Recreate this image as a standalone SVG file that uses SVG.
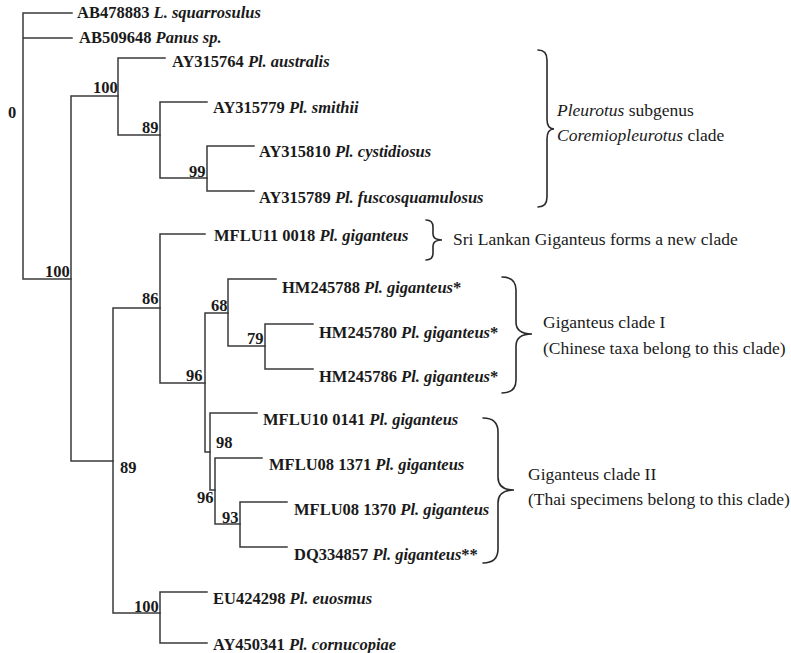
<svg xmlns="http://www.w3.org/2000/svg" width="791" height="653" viewBox="0 0 791 653">
<style>
.bg{fill:#ffffff}
.ln{fill:none;stroke:#3a3a3a;stroke-width:1.5;stroke-linecap:square}
.br{fill:none;stroke:#2a2a2a;stroke-width:1.6;stroke-linecap:round}
.lf{font-family:"Liberation Serif","Times New Roman",serif;font-size:16.5px;font-weight:bold;fill:#1a1a1a}
.bs{font-family:"Liberation Serif","Times New Roman",serif;font-size:16.5px;font-weight:bold;fill:#1a1a1a}
.cl{font-family:"Liberation Serif","Times New Roman",serif;font-size:17.5px;fill:#1a1a1a}
.it{font-style:italic}
</style>
<rect class="bg" x="0" y="0" width="791" height="653"/>
<g id="connectors" class="ln">
<path d="M23,13V279M23,13H72M23,38H72M23,279H71"/>
<path d="M71,96V461M71,96H118M71,461H113"/>
<path d="M118,58V135M118,58H165M118,135H160"/>
<path d="M160,102V178M160,102H207M160,178H207"/>
<path d="M207,146V191M207,146H254M207,191H254"/>
<path d="M113,308V613M113,308H160M113,613H160"/>
<path d="M160,234V383M160,234H205M160,383H205"/>
<path d="M205,313V452M205,313H228M205,452H210"/>
<path d="M228,279V346M228,279H276M228,346H265"/>
<path d="M265,324V369M265,324H313M265,369H313"/>
<path d="M210,413V490M210,413H257M210,490H215"/>
<path d="M215,458V524M215,458H262M215,524H240"/>
<path d="M240,502V547M240,502H287M240,547H287"/>
<path d="M160,592V643M160,592H207M160,643H207"/>
</g>
<g id="leaf-AB478883"><text class="lf" x="77" y="18">AB478883 <tspan class="it">L. squarrosulus</tspan></text></g>
<g id="leaf-AB509648"><text class="lf" x="79" y="43">AB509648 <tspan class="it">Panus sp.</tspan></text></g>
<g id="leaf-AY315764"><text class="lf" x="172" y="67">AY315764 <tspan class="it">Pl. australis</tspan></text></g>
<g id="leaf-AY315779"><text class="lf" x="213" y="113">AY315779 <tspan class="it">Pl. smithii</tspan></text></g>
<g id="leaf-AY315810"><text class="lf" x="259" y="157">AY315810 <tspan class="it">Pl. cystidiosus</tspan></text></g>
<g id="leaf-AY315789"><text class="lf" x="259" y="203">AY315789 <tspan class="it">Pl. fuscosquamulosus</tspan></text></g>
<g id="leaf-MFLU110018"><text class="lf" x="214" y="241">MFLU11 0018 <tspan class="it">Pl. giganteus</tspan></text></g>
<g id="leaf-HM245788"><text class="lf" x="282" y="293">HM245788 <tspan class="it">Pl. giganteus</tspan>*</text></g>
<g id="leaf-HM245780"><text class="lf" x="319" y="338">HM245780 <tspan class="it">Pl. giganteus</tspan>*</text></g>
<g id="leaf-HM245786"><text class="lf" x="319" y="382">HM245786 <tspan class="it">Pl. giganteus</tspan>*</text></g>
<g id="leaf-MFLU100141"><text class="lf" x="263" y="425">MFLU10 0141 <tspan class="it">Pl. giganteus</tspan></text></g>
<g id="leaf-MFLU081371"><text class="lf" x="269" y="470">MFLU08 1371 <tspan class="it">Pl. giganteus</tspan></text></g>
<g id="leaf-MFLU081370"><text class="lf" x="294" y="515">MFLU08 1370 <tspan class="it">Pl. giganteus</tspan></text></g>
<g id="leaf-DQ334857"><text class="lf" x="294" y="560">DQ334857 <tspan class="it">Pl. giganteus</tspan>**</text></g>
<g id="leaf-EU424298"><text class="lf" x="213" y="604">EU424298 <tspan class="it">Pl. euosmus</tspan></text></g>
<g id="leaf-AY450341"><text class="lf" x="213" y="650">AY450341 <tspan class="it">Pl. cornucopiae</tspan></text></g>
<g id="support-values">
<text class="bs" x="8" y="118">0</text>
<text class="bs" x="93" y="93">100</text>
<text class="bs" x="142" y="133">89</text>
<text class="bs" x="189" y="177">99</text>
<text class="bs" x="45" y="277">100</text>
<text class="bs" x="142" y="304">86</text>
<text class="bs" x="211" y="311">68</text>
<text class="bs" x="247" y="344">79</text>
<text class="bs" x="186" y="381">96</text>
<text class="bs" x="216" y="448">98</text>
<text class="bs" x="197" y="503">96</text>
<text class="bs" x="222" y="523">93</text>
<text class="bs" x="120" y="473">89</text>
<text class="bs" x="134" y="612">100</text>
</g>
<g id="clade-coremiopleurotus">
<path class="br" d="M538,50Q547,50 547,60L547,119Q547,129 554,129Q547,129 547,139L547,197Q547,207 538,207"/>
<text class="cl" x="557" y="116"><tspan class="it">Pleurotus</tspan> subgenus</text>
<text class="cl" x="557" y="141"><tspan class="it">Coremiopleurotus</tspan> clade</text>
</g>
<g id="clade-srilankan">
<path class="br" d="M426,220Q433,220 433,227L433,234Q433,240 442,240Q433,240 433,246L433,253Q433,260 426,260"/>
<text class="cl" x="453" y="245">Sri Lankan Giganteus forms a new clade</text>
</g>
<g id="clade-I">
<path class="br" d="M502,277Q516,277 516,290L516,322Q516,334 532,334Q516,334 516,346L516,380Q516,393 502,393"/>
<text class="cl" x="543" y="328">Giganteus clade I</text>
<text class="cl" x="543" y="354">(Chinese taxa belong to this clade)</text>
</g>
<g id="clade-II">
<path class="br" d="M483,418Q498,418 498,432L498,477Q498,490 514,490Q498,490 498,503L498,549Q498,563 483,563"/>
<text class="cl" x="528" y="480">Giganteus clade II</text>
<text class="cl" x="528" y="505">(Thai specimens belong to this clade)</text>
</g>
</svg>
